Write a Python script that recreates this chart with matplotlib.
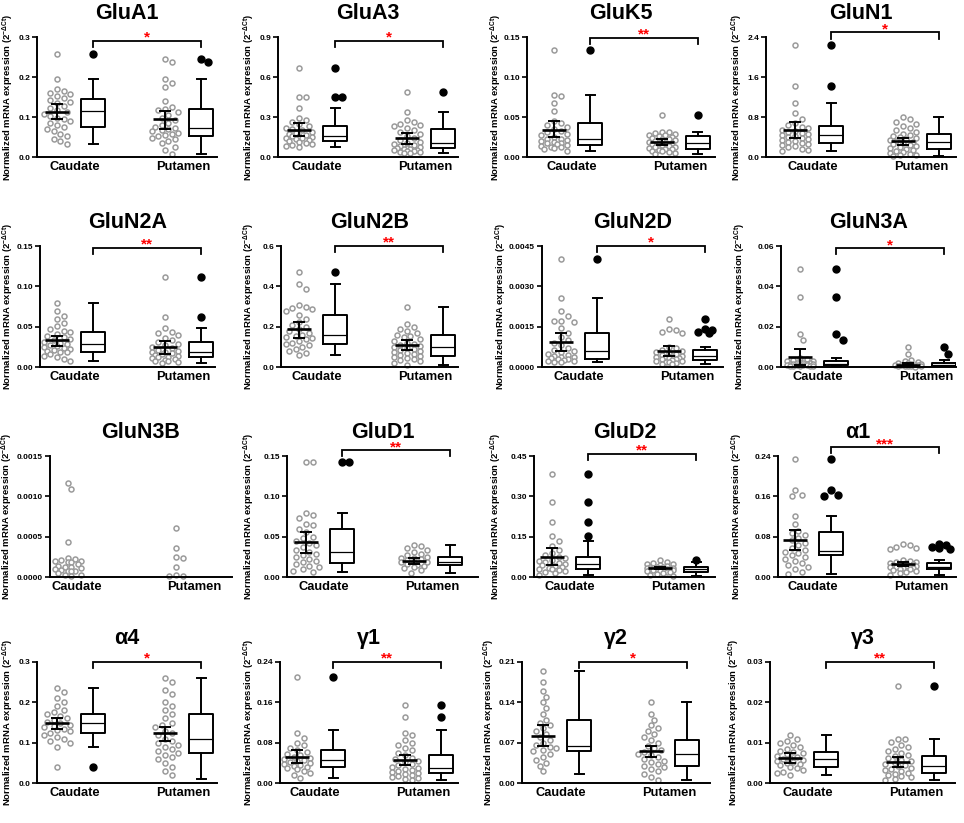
import numpy as np
import matplotlib
matplotlib.use("Agg")
import matplotlib.pyplot as plt
from matplotlib.ticker import FormatStrFormatter

plt.rcParams['font.family'] = ['Liberation Sans', 'DejaVu Sans']
plt.rcParams['font.weight'] = 'bold'
plt.rcParams['mathtext.fontset'] = 'custom'
plt.rcParams['mathtext.rm'] = 'Liberation Sans:bold'
plt.rcParams['mathtext.bf'] = 'Liberation Sans:bold'
plt.rcParams['mathtext.it'] = 'Liberation Sans:bold:italic'

# ---------------- data ----------------
genes = ["GluA1", "GluA3", "GluK5", "GluN1",
         "GluN2A", "GluN2B", "GluN2D", "GluN3A",
         "GluN3B", "GluD1", "GluD2", "α1",
         "α4", "γ1", "γ2", "γ3"]
ymax = [0.3, 0.9, 0.15, 2.4,
        0.15, 0.6, 0.0045, 0.06,
        0.0015, 0.15, 0.45, 0.24,
        0.3, 0.24, 0.21, 0.03]
decimals = [1, 1, 2, 1, 2, 1, 4, 2, 4, 2, 2, 2, 1, 2, 2, 2]
stars = ["*", "*", "**", "*", "**", "**", "*", "*", "", "**", "**", "***",
         "*", "**", "*", "**"]
bracket_y = [0.29, 0.87, 0.149, 2.49,
             0.148, 0.6, 0.0045, 0.0589,
             None, 0.157, 0.459, 0.257,
             0.3, 0.24, 0.21, 0.03]

caudate = {
    "GluA1": [0.257, 0.194, 0.170, 0.165, 0.160, 0.157, 0.152, 0.148, 0.142, 0.138, 0.134, 0.128,
              0.122, 0.117, 0.112, 0.108, 0.103, 0.098, 0.094, 0.089, 0.085, 0.080, 0.075, 0.070,
              0.064, 0.058, 0.052, 0.046, 0.040, 0.033],
    "GluA3": [0.665, 0.452, 0.452, 0.365, 0.296, 0.275, 0.26, 0.245, 0.232, 0.22, 0.21, 0.2, 0.19,
              0.182, 0.175, 0.168, 0.16, 0.155, 0.15, 0.145, 0.14, 0.135, 0.128, 0.122, 0.115, 0.108,
              0.1, 0.092, 0.083, 0.075],
    "GluK5": [0.134, 0.078, 0.076, 0.067, 0.057, 0.045, 0.043, 0.04, 0.038, 0.035, 0.033, 0.031,
              0.029, 0.027, 0.025, 0.023, 0.022, 0.021, 0.02, 0.019, 0.018, 0.017, 0.016, 0.015,
              0.014, 0.013, 0.012, 0.011, 0.01, 0.008],
    "GluN1": [2.25, 1.42, 1.08, 0.88, 0.77, 0.68, 0.64, 0.61, 0.58, 0.55, 0.52, 0.5, 0.48, 0.46,
              0.44, 0.42, 0.4, 0.38, 0.36, 0.34, 0.32, 0.3, 0.28, 0.26, 0.24, 0.22, 0.2, 0.17, 0.14,
              0.12],
    "GluN2A": [0.079, 0.07, 0.063, 0.06, 0.054, 0.051, 0.047, 0.045, 0.043, 0.041, 0.039, 0.037,
               0.035, 0.033, 0.031, 0.03, 0.028, 0.027, 0.026, 0.025, 0.024, 0.022, 0.021, 0.02,
               0.019, 0.018, 0.016, 0.014, 0.012, 0.01, 0.008],
    "GluN2B": [0.47, 0.413, 0.385, 0.305, 0.3, 0.295, 0.29, 0.28, 0.26, 0.24, 0.225, 0.21, 0.2,
               0.19, 0.18, 0.17, 0.16, 0.155, 0.15, 0.145, 0.14, 0.13, 0.12, 0.115, 0.11, 0.1, 0.09,
               0.08, 0.07, 0.06],
    "GluN2D": [0.004, 0.00257, 0.00207, 0.00188, 0.00172, 0.0017, 0.00168, 0.00145, 0.00125,
               0.0011, 0.001, 0.0009, 0.0008, 0.00072, 0.00065, 0.0006, 0.00055, 0.0005, 0.00046,
               0.00042, 0.00039, 0.00036, 0.00033, 0.0003, 0.00028, 0.00026, 0.00024, 0.00022,
               0.0002, 0.00018],
    "GluN3A": [0.0488, 0.0347, 0.0162, 0.0132, 0.0045, 0.004, 0.0035, 0.003, 0.0028, 0.0025,
               0.0022, 0.002, 0.0018, 0.0017, 0.0016, 0.0015, 0.0013, 0.0012, 0.0011, 0.001,
               0.0009, 0.0008, 0.0007, 0.0006, 0.0005, 0.0004, 0.0003],
    "GluN3B": [0.00117, 0.00109, 0.00043, 0.00024, 0.00022, 0.00021, 0.0002, 0.0002, 0.00019,
               0.00018, 0.00016, 0.00014, 0.00013, 0.00012, 0.00011, 0.0001, 0.00009, 0.00008,
               0.00007, 0.00007, 0.00005, 0.00003, 0.00002, 0.00001],
    "GluD1": [0.142, 0.142, 0.079, 0.077, 0.073, 0.066, 0.065, 0.059, 0.056, 0.05, 0.048, 0.045,
              0.042, 0.04, 0.037, 0.034, 0.031, 0.029, 0.027, 0.025, 0.022, 0.02, 0.018, 0.016,
              0.014, 0.012, 0.01, 0.008, 0.006],
    "GluD2": [0.384, 0.28, 0.205, 0.153, 0.134, 0.115, 0.1, 0.09, 0.08, 0.075, 0.07, 0.065, 0.06,
              0.056, 0.052, 0.049, 0.046, 0.043, 0.04, 0.037, 0.034, 0.031, 0.028, 0.025, 0.022,
              0.018, 0.014, 0.009],
    "α1": [0.235, 0.173, 0.162, 0.161, 0.121, 0.105, 0.092, 0.088, 0.083, 0.078, 0.073, 0.068,
           0.063, 0.058, 0.054, 0.05, 0.047, 0.044, 0.04, 0.036, 0.032, 0.028, 0.024, 0.02, 0.015,
           0.01, 0.005],
    "α4": [0.235, 0.225, 0.21, 0.2, 0.19, 0.182, 0.175, 0.17, 0.165, 0.16, 0.156, 0.152, 0.148,
           0.145, 0.142, 0.138, 0.135, 0.132, 0.128, 0.124, 0.12, 0.115, 0.11, 0.105, 0.1, 0.09,
           0.04],
    "γ1": [0.21, 0.1, 0.09, 0.08, 0.075, 0.07, 0.066, 0.062, 0.058, 0.055, 0.052, 0.05, 0.048,
           0.046, 0.044, 0.042, 0.04, 0.038, 0.036, 0.034, 0.032, 0.03, 0.027, 0.024, 0.02, 0.015,
           0.01],
    "γ2": [0.195, 0.175, 0.16, 0.15, 0.14, 0.13, 0.12, 0.11, 0.105, 0.1, 0.095, 0.09, 0.085, 0.08,
           0.075, 0.07, 0.066, 0.063, 0.06, 0.058, 0.055, 0.05, 0.045, 0.04, 0.035, 0.03, 0.02],
    "γ3": [0.012, 0.011, 0.0105, 0.01, 0.0095, 0.009, 0.0085, 0.008, 0.0077, 0.0074, 0.0071,
           0.0068, 0.0065, 0.0062, 0.006, 0.0058, 0.0055, 0.0052, 0.005, 0.0047, 0.0044, 0.004,
           0.0036, 0.0032, 0.0028, 0.0024, 0.002],
}

putamen = {
    "GluA1": [0.244, 0.238, 0.194, 0.186, 0.174, 0.140, 0.126, 0.121, 0.118, 0.112, 0.105, 0.098,
              0.092, 0.086, 0.080, 0.076, 0.073, 0.070, 0.067, 0.064, 0.060, 0.057, 0.054, 0.052,
              0.048, 0.044, 0.040, 0.034, 0.026, 0.018, 0.008],
    "GluA3": [0.49, 0.34, 0.275, 0.262, 0.25, 0.24, 0.23, 0.215, 0.2, 0.185, 0.17, 0.155, 0.14,
              0.125, 0.115, 0.105, 0.098, 0.09, 0.083, 0.077, 0.07, 0.066, 0.062, 0.058, 0.054,
              0.05, 0.046, 0.042, 0.038, 0.035, 0.032, 0.03],
    "GluK5": [0.053, 0.031, 0.031, 0.03, 0.029, 0.028, 0.027, 0.026, 0.025, 0.024, 0.023, 0.022,
              0.021, 0.02, 0.019, 0.018, 0.018, 0.017, 0.016, 0.015, 0.014, 0.013, 0.012, 0.011,
              0.01, 0.01, 0.009, 0.008, 0.007, 0.006, 0.005, 0.004],
    "GluN1": [0.8, 0.77, 0.7, 0.67, 0.62, 0.58, 0.55, 0.5, 0.47, 0.44, 0.42, 0.4, 0.38, 0.36, 0.34,
              0.32, 0.3, 0.28, 0.26, 0.24, 0.22, 0.2, 0.18, 0.16, 0.14, 0.12, 0.1, 0.08, 0.06, 0.05,
              0.04, 0.03],
    "GluN2A": [0.112, 0.062, 0.048, 0.044, 0.042, 0.04, 0.036, 0.033, 0.031, 0.029, 0.027, 0.025,
               0.023, 0.021, 0.02, 0.019, 0.018, 0.017, 0.016, 0.015, 0.014, 0.013, 0.012, 0.011,
               0.01, 0.009, 0.008, 0.007, 0.006, 0.005],
    "GluN2B": [0.297, 0.215, 0.2, 0.19, 0.18, 0.17, 0.16, 0.155, 0.15, 0.14, 0.13, 0.12, 0.115,
               0.11, 0.105, 0.1, 0.095, 0.09, 0.085, 0.08, 0.075, 0.07, 0.065, 0.06, 0.055, 0.05,
               0.045, 0.04, 0.035, 0.03, 0.02, 0.012],
    "GluN2D": [0.0018, 0.0014, 0.00137, 0.0013, 0.00128, 0.00075, 0.0007, 0.00065, 0.0006,
               0.00056, 0.00052, 0.00048, 0.00045, 0.00042, 0.0004, 0.00038, 0.00036, 0.00034,
               0.00032, 0.0003, 0.00028, 0.00026, 0.00024, 0.00022, 0.0002, 0.00018, 0.00015,
               0.00012, 0.0001],
    "GluN3A": [0.0099, 0.0066, 0.0036, 0.003, 0.0025, 0.0021, 0.0018, 0.0016, 0.0014, 0.0012,
               0.0011, 0.001, 0.0009, 0.0008, 0.0007, 0.0006, 0.0005, 0.0004, 0.0003, 0.0002],
    "GluN3B": [0.00061, 0.00036, 0.00025, 0.00024, 0.00012, 0.00002, 0.00001, 0.00001],
    "GluD1": [0.04, 0.039, 0.036, 0.034, 0.031, 0.029, 0.027, 0.025, 0.024, 0.023, 0.022, 0.021,
              0.02, 0.019, 0.018, 0.018, 0.017, 0.016, 0.015, 0.014, 0.013, 0.011, 0.009, 0.005],
    "GluD2": [0.065, 0.056, 0.053, 0.05, 0.047, 0.044, 0.041, 0.039, 0.037, 0.036, 0.035, 0.034,
              0.033, 0.032, 0.031, 0.03, 0.029, 0.028, 0.027, 0.026, 0.025, 0.024, 0.022, 0.02,
              0.018, 0.015, 0.012, 0.008, 0.005],
    "α1": [0.066, 0.063, 0.06, 0.057, 0.055, 0.034, 0.032, 0.03, 0.029, 0.028, 0.027, 0.026, 0.025,
           0.024, 0.023, 0.022, 0.021, 0.021, 0.02, 0.019, 0.018, 0.017, 0.016, 0.015, 0.014,
           0.012, 0.01, 0.007, 0.004],
    "α4": [0.26, 0.25, 0.23, 0.22, 0.2, 0.19, 0.18, 0.17, 0.16, 0.15, 0.145, 0.14, 0.13, 0.125,
           0.12, 0.11, 0.105, 0.1, 0.095, 0.09, 0.085, 0.08, 0.075, 0.07, 0.065, 0.06, 0.05, 0.04,
           0.03, 0.02],
    "γ1": [0.155, 0.13, 0.1, 0.095, 0.085, 0.08, 0.075, 0.07, 0.065, 0.06, 0.055, 0.05, 0.047,
           0.044, 0.041, 0.038, 0.035, 0.032, 0.03, 0.028, 0.026, 0.024, 0.022, 0.02, 0.018, 0.016,
           0.014, 0.012, 0.01, 0.007, 0.005],
    "γ2": [0.14, 0.12, 0.11, 0.1, 0.095, 0.09, 0.085, 0.08, 0.075, 0.07, 0.065, 0.06, 0.057, 0.054,
           0.051, 0.048, 0.045, 0.042, 0.039, 0.036, 0.033, 0.03, 0.027, 0.024, 0.02, 0.015, 0.01,
           0.005],
    "γ3": [0.024, 0.011, 0.011, 0.0102, 0.0095, 0.009, 0.0085, 0.008, 0.0075, 0.007, 0.0066,
           0.0062, 0.0058, 0.0054, 0.005, 0.0047, 0.0044, 0.0041, 0.0038, 0.0035, 0.0032, 0.0029,
           0.0026, 0.0023, 0.002, 0.0017, 0.0014, 0.0011, 0.0008],
}

# box stats: (whisker low, q1, median, q3, whisker high)
caud_box = {
    "GluA1": (0.033, 0.076, 0.115, 0.145, 0.194), "GluA3": (0.072, 0.122, 0.159, 0.229, 0.37),
    "GluK5": (0.008, 0.015, 0.023, 0.042, 0.078), "GluN1": (0.12, 0.287, 0.447, 0.613, 1.08),
    "GluN2A": (0.008, 0.019, 0.028, 0.044, 0.079), "GluN2B": (0.058, 0.112, 0.157, 0.256, 0.413),
    "GluN2D": (0.00018, 0.00031, 0.0006, 0.00126, 0.00257), "GluN3A": (0.0003, 0.0008, 0.0017, 0.003, 0.0045),
    "GluD1": (0.006, 0.0175, 0.031, 0.06, 0.079), "GluD2": (0.009, 0.031, 0.049, 0.075, 0.134),
    "α1": (0.005, 0.044, 0.052, 0.09, 0.121), "α4": (0.09, 0.125, 0.148, 0.17, 0.235),
    "γ1": (0.01, 0.032, 0.045, 0.065, 0.105), "γ2": (0.015, 0.055, 0.065, 0.11, 0.195),
    "γ3": (0.002, 0.004, 0.006, 0.0078, 0.012),
}
put_box = {
    "GluA1": (0.007, 0.052, 0.073, 0.121, 0.194), "GluA3": (0.03, 0.067, 0.104, 0.211, 0.34),
    "GluK5": (0.004, 0.0105, 0.018, 0.026, 0.031), "GluN1": (0.03, 0.167, 0.3, 0.467, 0.8),
    "GluN2A": (0.005, 0.0124, 0.0186, 0.031, 0.048), "GluN2B": (0.012, 0.055, 0.099, 0.157, 0.297),
    "GluN2D": (0.0001, 0.00027, 0.0004, 0.00063, 0.00075), "GluN3A": (0.0002, 0.0005, 0.0011, 0.0021, 0.0036),
    "GluD1": (0.005, 0.0154, 0.019, 0.025, 0.04), "GluD2": (0.005, 0.02, 0.029, 0.038, 0.056),
    "α1": (0.004, 0.0167, 0.0207, 0.0287, 0.034), "α4": (0.01, 0.075, 0.11, 0.17, 0.26),
    "γ1": (0.005, 0.02, 0.03, 0.055, 0.105), "γ2": (0.005, 0.03, 0.05, 0.075, 0.14),
    "γ3": (0.0008, 0.0025, 0.0042, 0.0068, 0.011),
}
# mean with 95% CI: (mean, low, high)
caud_mean = {
    "GluA1": (0.113, 0.095, 0.132), "GluA3": (0.204, 0.154, 0.254), "GluK5": (0.034, 0.025, 0.045),
    "GluN1": (0.533, 0.387, 0.70), "GluN2A": (0.033, 0.026, 0.039), "GluN2B": (0.187, 0.145, 0.223),
    "GluN2D": (0.00093, 0.0006, 0.00125), "GluN3A": (0.005, 0.001, 0.009),
    "GluD1": (0.044, 0.03, 0.056), "GluD2": (0.075, 0.044, 0.106), "α1": (0.0733, 0.054, 0.093),
    "α4": (0.148, 0.135, 0.16), "γ1": (0.052, 0.04, 0.065), "γ2": (0.082, 0.065, 0.1),
    "γ3": (0.0062, 0.005, 0.0075),
}
put_mean = {
    "GluA1": (0.094, 0.071, 0.116), "GluA3": (0.143, 0.1, 0.18), "GluK5": (0.019, 0.015, 0.022),
    "GluN1": (0.32, 0.25, 0.39), "GluN2A": (0.025, 0.0165, 0.032), "GluN2B": (0.107, 0.086, 0.132),
    "GluN2D": (0.00058, 0.0004, 0.00077), "GluN3A": (0.0012, 0.0008, 0.0018),
    "GluD1": (0.0196, 0.016, 0.024), "GluD2": (0.034, 0.03, 0.037), "α1": (0.0253, 0.022, 0.03),
    "α4": (0.125, 0.105, 0.14), "γ1": (0.045, 0.035, 0.055), "γ2": (0.055, 0.045, 0.065),
    "γ3": (0.0052, 0.004, 0.0065),
}

# ---------------- layout (pixels in the 964x823 image) ----------------
W, H = 964, 823
row_top = [37, 246, 456, 662]
row_bot = [157, 367, 577, 783]
ax_left = [37, 278, 527, 766, 40, 281, 542, 781, 50, 287, 534, 778, 37, 280, 522, 770]
ax_right = [217, 458, 715, 956, 215, 458, 723, 956, 232, 478, 715, 956, 217, 458, 710, 955]
x1_px = [57, 299, 554, 795, 57, 299, 561, 800, 68, 306, 552, 795, 57, 297, 543, 790]
ylab_px = [8, 249, 496, 737, 8, 249, 501, 740, 7, 249, 496, 737, 8, 249, 489, 734]
title_dx = [0, 0, 0, 0, 0, 0, 0, 0, 0, 0, 0, -9, 0, 0, 0, 0]
UNIT = 36.0  # px per x unit

GRAY = "#9b9b9b"


def swarm(vals, center, ymx, hpx, d=6.6, maxoff=14.0):
    # simple beeswarm: nearest free horizontal offset, limited width
    order = np.argsort(vals)[::-1]
    placed = []
    xs = np.zeros(len(vals))
    step = d * 0.5
    nmax = int(maxoff // step)
    cands = [0.0]
    for k in range(1, nmax + 1):
        cands += [k * step, -k * step]
    for i in order:
        yp = vals[i] / ymx * hpx
        best, bestd = 0.0, -1
        for off in cands:
            md = min([np.hypot(off - px, yp - py) for px, py in placed] + [99])
            if md >= d:
                best = off
                break
            if md > bestd + 0.5:
                best, bestd = off, md
        placed.append((best, yp))
        xs[i] = center + best / UNIT
    return xs


fig = plt.figure(figsize=(W / 100, H / 100), dpi=100)

for i, g in enumerate(genes):
    r = i // 4
    L, R, x1 = ax_left[i], ax_right[i], x1_px[i]
    T, B = row_top[r], row_bot[r]
    ax = fig.add_axes([L / W, 1 - B / H, (R - L) / W, (B - T) / H])
    xmin = 1 - (x1 - L) / UNIT
    ax.set_xlim(xmin, xmin + (R - L) / UNIT)
    ym = ymax[i]
    ax.set_ylim(0, ym)
    hpx = B - T

    cv = np.array(caudate[g])
    pv = np.array(putamen[g])
    ax.plot(swarm(cv, 1, ym, hpx), cv, 'o', ms=3.6, mfc='white', mec=GRAY, mew=1.1,
            clip_on=False, zorder=2)
    ax.plot(swarm(pv, 4, ym, hpx), pv, 'o', ms=3.6, mfc='white', mec=GRAY, mew=1.1,
            clip_on=False, zorder=2)

    if g in caud_box:
        for pos, vals, box, mn in [(2, cv, caud_box[g], caud_mean[g]),
                                   (5, pv, put_box[g], put_mean[g])]:
            lo, q1, med, q3, hi = box
            ax.bxp([dict(med=med, q1=q1, q3=q3, whislo=lo, whishi=hi, fliers=[])],
                   positions=[pos], widths=0.67, capwidths=0.25, showfliers=False,
                   boxprops=dict(color='black', linewidth=1.4),
                   whiskerprops=dict(color='black', linewidth=1.4),
                   capprops=dict(color='black', linewidth=1.4),
                   medianprops=dict(color='black', linewidth=0.9),
                   manage_ticks=False)
            fl = vals[(vals > hi) | (vals < lo)]
            if len(fl):
                ax.plot(swarm(fl, pos, ym, hpx, d=7.2), fl, 'o', ms=5, color='black',
                        clip_on=False, zorder=3)
            m, clo, chi = mn
            mx = pos - 1
            ax.errorbar([mx], [m], yerr=[[m - clo], [chi - m]], fmt='none', ecolor='black',
                        elinewidth=1.4, capsize=4.6, capthick=1.4, zorder=4)
            ax.plot([mx], [m], marker='_', ms=17, mew=1.9, color='black', zorder=4)

    if bracket_y[i] is not None:
        by = bracket_y[i]
        drop = 6 / hpx * ym
        ax.plot([2, 2, 5, 5], [by - drop, by, by, by - drop], color='black', lw=1.3,
                clip_on=False, solid_joinstyle='miter')
        ax.annotate(stars[i], xy=(3.5, by), xytext=(0, -0.6), textcoords='offset points',
                    ha='center', va='baseline', color='red', fontsize=11,
                    annotation_clip=False)

    ax.set_yticks(np.linspace(0, ym, 4))
    ax.yaxis.set_major_formatter(FormatStrFormatter('%%.%df' % decimals[i]))
    if g == "GluN3B":
        ax.set_xticks([1.25, 4.5])
    else:
        ax.set_xticks([1.5, 4.5])
    ax.set_xticklabels(["Caudate", "Putamen"], fontsize=9.3, fontweight='bold')
    ax.tick_params(axis='x', length=0, pad=3)
    ax.tick_params(axis='y', length=3.5, width=1.2, labelsize=6, pad=1.5)
    for s in ['top', 'right']:
        ax.spines[s].set_visible(False)
    for s in ['left', 'bottom']:
        ax.spines[s].set_linewidth(1.4)
    ax.set_ylabel(r"Normalized mRNA expression (2$^{\mathbf{-ΔCt}}$)", fontsize=6.8,
                  fontweight='bold')
    ax.yaxis.set_label_coords((ylab_px[i] + 8 - L) / (R - L), 0.5)
    t = ax.set_title(g, fontsize=15.5, fontweight='bold', pad=13)
    t.set_x(0.5 + title_dx[i] / (R - L))

fig.savefig("out.png", dpi=100)
